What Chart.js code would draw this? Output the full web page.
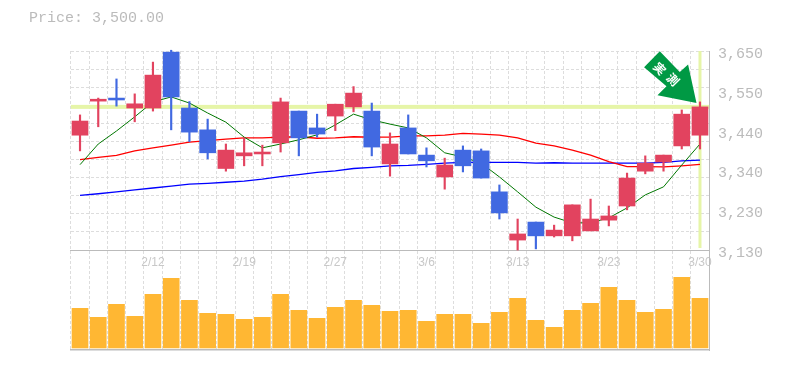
<!DOCTYPE html>
<html>
<head>
<meta charset="utf-8">
<title>Price chart</title>
<script src="https://cdn.jsdelivr.net/npm/chart.js@4"></script>
<style>
  html, body { margin: 0; padding: 0; background: #fff; }
  canvas { display: block; }
</style>
</head>
<body>
<canvas id="chart1" width="785" height="370"></canvas>
<script>
// tick labels, only every 5th session is labelled on the picture
const categories = ['', '', '', '', '2/12', '', '', '', '', '2/19', '', '', '', '', '2/27', '', '', '', '', '3/6',
    '', '', '', '', '3/13', '', '', '', '', '3/23', '', '', '', '', '3/30'];

const opens = [3430, 3519, 3527, 3501, 3501, 3647, 3501, 3444, 3343, 3376, 3381, 3410, 3493, 3449, 3480, 3504, 3493, 3355,
    3449, 3378, 3321, 3391, 3389, 3282, 3156, 3203, 3167, 3167, 3180, 3208, 3245, 3336, 3360, 3402, 3430];
const highs = [3483, 3527, 3577, 3538, 3621, 3652, 3518, 3472, 3407, 3423, 3404, 3527, 3493, 3485, 3511, 3557, 3514, 3436,
    3483, 3397, 3370, 3402, 3394, 3300, 3211, 3203, 3195, 3248, 3263, 3245, 3331, 3376, 3378, 3496, 3517];
const lows = [3389, 3452, 3506, 3465, 3493, 3444, 3413, 3368, 3336, 3350, 3350, 3386, 3376, 3425, 3442, 3491, 3376, 3323,
    3381, 3347, 3289, 3334, 3318, 3211, 3130, 3133, 3164, 3154, 3180, 3193, 3235, 3329, 3336, 3394, 3394];
const closes = [3467, 3524, 3522, 3512, 3587, 3530, 3438, 3384, 3391, 3384, 3386, 3517, 3423, 3433, 3511, 3540, 3399, 3407,
    3381, 3363, 3352, 3350, 3318, 3227, 3172, 3167, 3182, 3248, 3211, 3219, 3318, 3357, 3378, 3485, 3504];

const maShort = [3353, 3407, 3441, 3478, 3517, 3530, 3514, 3488, 3464, 3425, 3397, 3407, 3418, 3431, 3457, 3485, 3470, 3459,
    3449, 3423, 3384, 3373, 3357, 3321, 3282, 3242, 3216, 3201, 3201, 3214, 3240, 3274, 3295, 3352, 3407];
const maMiddle = [3366, 3372, 3377, 3389, 3397, 3404, 3412, 3416, 3420, 3423, 3423, 3425, 3426, 3422, 3423, 3426, 3425, 3425,
    3428, 3428, 3430, 3435, 3433, 3430, 3423, 3409, 3402, 3391, 3378, 3361, 3348, 3348, 3347, 3350, 3354];
const maLong = [3273, 3277, 3282, 3287, 3292, 3297, 3302, 3304, 3307, 3310, 3315, 3322, 3327, 3333, 3337, 3343, 3346, 3350,
    3351, 3354, 3357, 3359, 3359, 3359, 3359, 3357, 3358, 3357, 3357, 3357, 3357, 3357, 3359, 3363, 3365];

const volumes = [3970, 3070, 4370, 3170, 5370, 6970, 4770, 3470, 3370, 2870, 3070, 5370, 3770, 2970, 4070, 4770, 4270, 3670,
    3770, 2670, 3370, 3370, 2470, 3570, 4970, 2770, 2070, 3770, 4470, 6070, 4770, 3570, 3870, 7070, 4970];

const priceTicks = [3650, 3546, 3442, 3338, 3234, 3130];
const gridTicks = [3650, 3602.7, 3555.5, 3508.2, 3460.9, 3413.6, 3366.4, 3319.1, 3271.8, 3224.5, 3177.3, 3130];
const priceTitle = 'Price: 3,500.00';
const lastPrice = 3504; // the line sits a touch above 3,500 on the picture
const markText = ['実', '測'];

const upColor = '#e2435f';
const downColor = '#4169e1';
const candleColors = closes.map((c, i) => (c >= opens[i] ? upColor : downColor));
const monoFont = '"Liberation Mono", monospace';

// price line, last session line and the arrow are placed from the scales
const markers = {
    id: 'markers',
    beforeDatasetsDraw(chart) {
        const { ctx, chartArea, scales } = chart;
        const py = scales.y.getPixelForValue(lastPrice);
        const lx = scales.x.getPixelForValue(categories.length - 1);
        ctx.save();
        ctx.fillStyle = '#e6f5a8';
        ctx.fillRect(chartArea.left, py - 2, chartArea.width, 4);
        ctx.fillRect(lx - 1.5, chartArea.top, 3, scales.y.getPixelForValue(3130) - chartArea.top - 2);
        ctx.restore();
    },
    afterDatasetsDraw(chart) {
        const { ctx, scales } = chart;
        const tipX = scales.x.getPixelForValue(categories.length - 1) - 3.5;
        const tipY = scales.y.getPixelForValue(highs[highs.length - 1]) + 1;
        const arrow = [[-36.7, -51.6], [-16.7, -31], [-8.4, -38.3], [0, 0], [-39, -7.6], [-30, -16.6], [-52.4, -35.6]];
        ctx.save();
        ctx.translate(tipX, tipY);
        ctx.fillStyle = '#009944';
        ctx.beginPath();
        arrow.forEach((p, i) => (i ? ctx.lineTo(p[0], p[1]) : ctx.moveTo(p[0], p[1])));
        ctx.closePath();
        ctx.fill();
        ctx.fillStyle = '#fff';
        ctx.font = 'bold 12px "Noto Sans CJK JP"';
        ctx.textAlign = 'center';
        ctx.textBaseline = 'middle';
        [[-36.7, -34.3], [-23.4, -23.3]].forEach((p, i) => {
            ctx.save();
            ctx.translate(p[0], p[1]);
            ctx.rotate(Math.PI / 4);
            ctx.fillText(markText[i], 0, 0);
            ctx.restore();
        });
        ctx.restore();
    }
};

new Chart(document.getElementById('chart1').getContext('2d'), {
    type: 'bar',
    plugins: [markers],
    data: {
        labels: categories,
        datasets: [
            { type: 'line', data: maLong, borderColor: '#0000ff', borderWidth: 1.3, pointRadius: 0, tension: 0, order: 5 },
            { type: 'line', data: maMiddle, borderColor: '#ff0000', borderWidth: 1.3, pointRadius: 0, tension: 0, order: 4 },
            { type: 'line', data: maShort, borderColor: '#007700', borderWidth: 1, pointRadius: 0, tension: 0, order: 3 },
            { data: lows.map((l, i) => [l, highs[i]]), backgroundColor: candleColors, barThickness: 1.5, grouped: false, clip: false, order: 2 },
            { data: opens.map((o, i) => [o, closes[i]]), backgroundColor: candleColors, barThickness: 16, grouped: false, order: 1 },
            { data: volumes, yAxisID: 'yVol', backgroundColor: '#ffb733', barThickness: 16, grouped: false, order: 6 }
        ]
    },
    options: {
        responsive: false,
        animation: false,
        layout: { padding: { left: 29, bottom: 12 } },
        plugins: {
            legend: { display: false },
            tooltip: { enabled: false },
            title: {
                display: true,
                text: priceTitle,
                align: 'start',
                color: '#bbbbbb',
                font: { family: monoFont, size: 15, weight: 'normal', lineHeight: 1.2 },
                padding: { top: 9, bottom: 24 }
            }
        },
        scales: {
            x: {
                type: 'category',
                offset: true,
                position: { y: 3130 },
                grid: { color: '#dddddd', offset: true, drawTicks: false },
                border: { display: true, color: '#bbbbbb', dash: [3, 2] },
                ticks: {
                    autoSkip: false,
                    maxRotation: 0,
                    padding: 5,
                    color: '#c8c8c8',
                    font: { family: '"Liberation Sans", sans-serif', size: 12 }
                }
            },
            xBase: {
                type: 'category',
                position: 'bottom',
                grid: { display: false },
                border: { display: true, color: '#bbbbbb', width: 1.5 },
                ticks: { display: false }
            },
            y: {
                position: 'right',
                min: 2868.75,
                max: 3650,
                afterFit(scale) { scale.width = 75.9; },
                afterBuildTicks(scale) { scale.ticks = priceTicks.map(v => ({ value: v })); },
                grid: { display: false, drawTicks: false },
                border: { display: true, color: '#bbbbbb' },
                ticks: {
                    autoSkip: false,
                    padding: 9,
                    labelOffset: 3,
                    color: '#bbbbbb',
                    font: { family: monoFont, size: 15 },
                    callback: v => (Math.round(v / 10) * 10).toLocaleString('en-US')
                }
            },
            yGrid: {
                position: 'left',
                min: 2868.75,
                max: 3650,
                afterFit(scale) { scale.width = 41.9; },
                afterBuildTicks(scale) { scale.ticks = gridTicks.map(v => ({ value: v })); },
                grid: { color: '#dddddd', drawTicks: false },
                border: { display: false, dash: [3, 2] },
                ticks: { display: false }
            },
            yVol: { display: false, min: -200, max: 29700 }
        }
    }
});
</script>
</body>
</html>
